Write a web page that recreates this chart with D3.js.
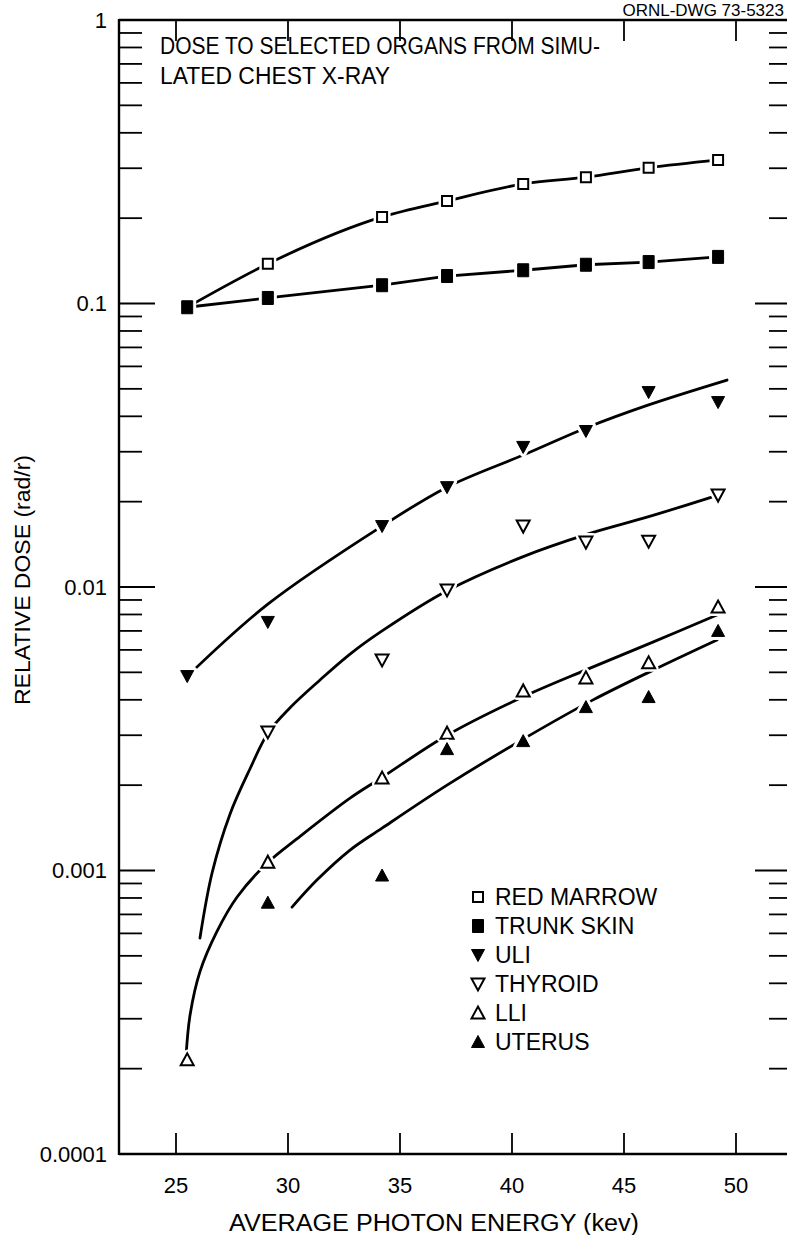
<!DOCTYPE html>
<html>
<head>
<meta charset="utf-8">
<script src="https://cdn.jsdelivr.net/npm/d3@7"></script>
<style>
  html, body { margin: 0; padding: 0; background: #fff; }
  svg { display: block; }
  text { font-family: "Liberation Sans", Arial, sans-serif; fill: #000; }
</style>
</head>
<body>
<svg id="chart" width="787" height="1235"></svg>
<script>
// ---------------- data ----------------
const energy = [25.5, 29.1, 34.2, 37.1, 40.5, 43.3, 46.1, 49.2];
const redMarrow = [0.097, 0.138, 0.202, 0.230, 0.264, 0.279, 0.301, 0.321];
const trunkSkin = [0.097, 0.1046, 0.116, 0.125, 0.131, 0.137, 0.140, 0.146];
const uli = [0.00485, 0.00753, 0.0164, 0.0225, 0.0312, 0.0355, 0.0487, 0.0449];
const thyroid = [null, 0.00308, 0.00553, 0.00976, 0.0164, 0.0144, 0.0145, 0.0211];
const lli = [0.000215, 0.00107, 0.00212, 0.00305, 0.0043, 0.00478, 0.0054, 0.0085];
const uterus = [null, 0.00077, 0.00096, 0.00268, 0.00286, 0.00377, 0.00409, 0.0070];

// fitted curves
const uliFitE = [25.5, 29.1, 34.2, 37.1, 40.5, 43.3, 46.1, 49.6];
const uliFitV = [0.00484, 0.0087, 0.0164, 0.0225, 0.0292, 0.0364, 0.0439, 0.0537];
const thyFitE = [26.07, 26.61, 27.41, 28.30, 29.1, 30.09, 31.43, 32.77, 34.2, 37.1, 40.5, 43.3, 46.1, 49.2];
const thyFitV = [0.000578, 0.00098, 0.00158, 0.00228, 0.00305, 0.00375, 0.00470, 0.00580, 0.0070, 0.0097, 0.0128, 0.0153, 0.0177, 0.0211];
const lliFitE = [25.45, 25.63, 26.07, 26.83, 27.72, 29.06, 30.54, 32.77, 34.2, 37.1, 40.5, 43.3, 46.1, 49.2];
const lliFitV = [0.000223, 0.00031, 0.00044, 0.000610, 0.000805, 0.00106, 0.00132, 0.0018, 0.00213, 0.0030, 0.0041, 0.0051, 0.0063, 0.0080];
const utFitE = [30.18, 31.29, 32.77, 34.2, 37.1, 40.67, 43.6, 46.3, 49.15];
const utFitV = [0.000743, 0.000925, 0.00118, 0.00141, 0.0020, 0.00296, 0.00399, 0.00509, 0.0065];

const xTicks = [25, 30, 35, 40, 45, 50];
const yMajor = [1, 0.1, 0.01, 0.001, 0.0001];
const yLabels = ["1", "0.1", "0.01", "0.001", "0.0001"];
const legendNames = ["RED MARROW", "TRUNK SKIN", "ULI", "THYROID", "LLI", "UTERUS"];
const legendSymbols = ["squareOpen", "squareFilled", "downFilled", "downOpen", "upOpen", "upFilled"];
const titleLines = ["DOSE TO SELECTED ORGANS FROM SIMU-", "LATED CHEST X-RAY"];
const xTitle = "AVERAGE PHOTON ENERGY (kev)";
const yTitle = "RELATIVE DOSE (rad/r)";
const drawingNo = "ORNL-DWG 73-5323";

// ---------------- layout ----------------
const plotLeft = 119, plotTop = 20, plotBottom = 1154, rightAxis = 792;
const svg = d3.select("#chart");
const x = d3.scaleLinear().domain([25, 50]).range([176, 736]);
const y = d3.scaleLog().domain([0.0001, 1]).range([plotBottom, plotTop]);

const g = svg.append("g");
const ink = "#000";

// frame lines
g.append("line").attr("x1", plotLeft).attr("x2", plotLeft).attr("y1", plotTop - 1).attr("y2", plotBottom + 1)
  .attr("stroke", ink).attr("stroke-width", 2.4);
g.append("line").attr("x1", plotLeft).attr("x2", 800).attr("y1", plotTop).attr("y2", plotTop)
  .attr("stroke", ink).attr("stroke-width", 2.4);
g.append("line").attr("x1", plotLeft).attr("x2", 800).attr("y1", plotBottom).attr("y2", plotBottom)
  .attr("stroke", ink).attr("stroke-width", 2.4);

// x ticks top and bottom
xTicks.forEach(t => {
  g.append("line").attr("x1", x(t)).attr("x2", x(t)).attr("y1", plotTop).attr("y2", plotTop + 21)
    .attr("stroke", ink).attr("stroke-width", 1.8);
  g.append("line").attr("x1", x(t)).attr("x2", x(t)).attr("y1", plotBottom).attr("y2", plotBottom - 21)
    .attr("stroke", ink).attr("stroke-width", 1.8);
  g.append("text").attr("x", x(t)).attr("y", 1193).attr("text-anchor", "middle")
    .attr("font-size", 22).text(t);
});

// y ticks left and right
const minorVals = [];
[0.0001, 0.001, 0.01, 0.1].forEach(d => { for (let k = 2; k <= 9; k++) minorVals.push(d * k); });
minorVals.forEach(v => {
  g.append("line").attr("x1", plotLeft).attr("x2", plotLeft + 23).attr("y1", y(v)).attr("y2", y(v))
    .attr("stroke", ink).attr("stroke-width", 1.8);
  g.append("line").attr("x1", rightAxis).attr("x2", rightAxis - 23).attr("y1", y(v)).attr("y2", y(v))
    .attr("stroke", ink).attr("stroke-width", 1.8);
});
[0.1, 0.01, 0.001].forEach(v => {
  g.append("line").attr("x1", plotLeft).attr("x2", plotLeft + 36).attr("y1", y(v)).attr("y2", y(v))
    .attr("stroke", ink).attr("stroke-width", 1.8);
  g.append("line").attr("x1", rightAxis).attr("x2", rightAxis - 37).attr("y1", y(v)).attr("y2", y(v))
    .attr("stroke", ink).attr("stroke-width", 1.8);
});
yMajor.forEach((v, i) => {
  g.append("text").attr("x", 107).attr("y", y(v)).attr("dy", "0.36em")
    .attr("text-anchor", "end").attr("font-size", 22).text(yLabels[i]);
});

// titles
g.append("text").attr("x", 434).attr("y", 1231).attr("text-anchor", "middle")
  .attr("font-size", 23).attr("textLength", 410).attr("lengthAdjust", "spacingAndGlyphs").text(xTitle);
g.append("text").attr("transform", "translate(30,580) rotate(-90)").attr("text-anchor", "middle")
  .attr("font-size", 22).attr("textLength", 250).attr("lengthAdjust", "spacingAndGlyphs").text(yTitle);
const titleWidths = [440, 230];
titleLines.forEach((t, i) => {
  g.append("text").attr("x", 160).attr("y", 54 + i * 30).attr("font-size", 23)
    .attr("textLength", titleWidths[i]).attr("lengthAdjust", "spacingAndGlyphs").text(t);
});
g.append("text").attr("x", 784).attr("y", 16).attr("text-anchor", "end")
  .attr("font-size", 17).text(drawingNo);

// ---------------- curves ----------------
const lineGen = (curve) => d3.line().x(d => x(d[0])).y(d => y(d[1])).curve(curve);
function drawCurve(E, V, curve) {
  const pts = E.map((e, i) => [e, V[i]]).filter(d => d[1] != null);
  g.append("path").attr("d", lineGen(curve)(pts)).attr("fill", "none")
    .attr("stroke", ink).attr("stroke-width", 2.8).attr("stroke-linecap", "round");
}
drawCurve(energy, redMarrow, d3.curveMonotoneX);
drawCurve(energy, trunkSkin, d3.curveLinear);
drawCurve(uliFitE, uliFitV, d3.curveCatmullRom.alpha(0.5));
drawCurve(thyFitE, thyFitV, d3.curveCatmullRom.alpha(0.5));
drawCurve(lliFitE, lliFitV, d3.curveCatmullRom.alpha(0.5));
drawCurve(utFitE, utFitV, d3.curveCatmullRom.alpha(0.5));

// ---------------- markers ----------------
function symbolPath(type) {
  const s = 6.5;
  switch (type) {
    case "squareOpen": return `M${-5},${-5}h10v10h-10Z`;
    case "squareFilled": return `M${-5.5},${-6.5}h11v13h-11Z`;
    case "downFilled":
    case "downOpen": return `M${-s},${-5.5}L${s},${-5.5}L0,${6.5}Z`;
    case "upFilled":
    case "upOpen": return `M${-s},${5.5}L${s},${5.5}L0,${-6.5}Z`;
  }
}
function drawMarker(cx, cy, type, halo) {
  const filled = type.indexOf("Filled") >= 0;
  const p = symbolPath(type);
  if (halo) {
    g.append("path").attr("d", p).attr("transform", `translate(${cx},${cy})`)
      .attr("fill", "#fff").attr("stroke", "#fff").attr("stroke-width", 7)
      .attr("stroke-linejoin", "round");
  }
  g.append("path").attr("d", p).attr("transform", `translate(${cx},${cy})`)
    .attr("fill", filled ? "#000" : "#fff").attr("stroke", "#000")
    .attr("stroke-width", filled ? 1 : 2).attr("stroke-linejoin", "miter");
}
const seriesList = [
  [redMarrow, "squareOpen"], [trunkSkin, "squareFilled"], [uli, "downFilled"],
  [thyroid, "downOpen"], [lli, "upOpen"], [uterus, "upFilled"]
];
seriesList.forEach(([vals, type]) => {
  vals.forEach((v, i) => {
    if (v == null) return;
    drawMarker(x(energy[i]), y(v), type, true);
  });
});

// ---------------- legend ----------------
legendNames.forEach((name, i) => {
  const ly = 897 + i * 29;
  drawMarker(478, ly, legendSymbols[i], false);
  g.append("text").attr("x", 495).attr("y", ly).attr("dy", "0.36em")
    .attr("font-size", 23).text(name);
});
</script>
</body>
</html>
